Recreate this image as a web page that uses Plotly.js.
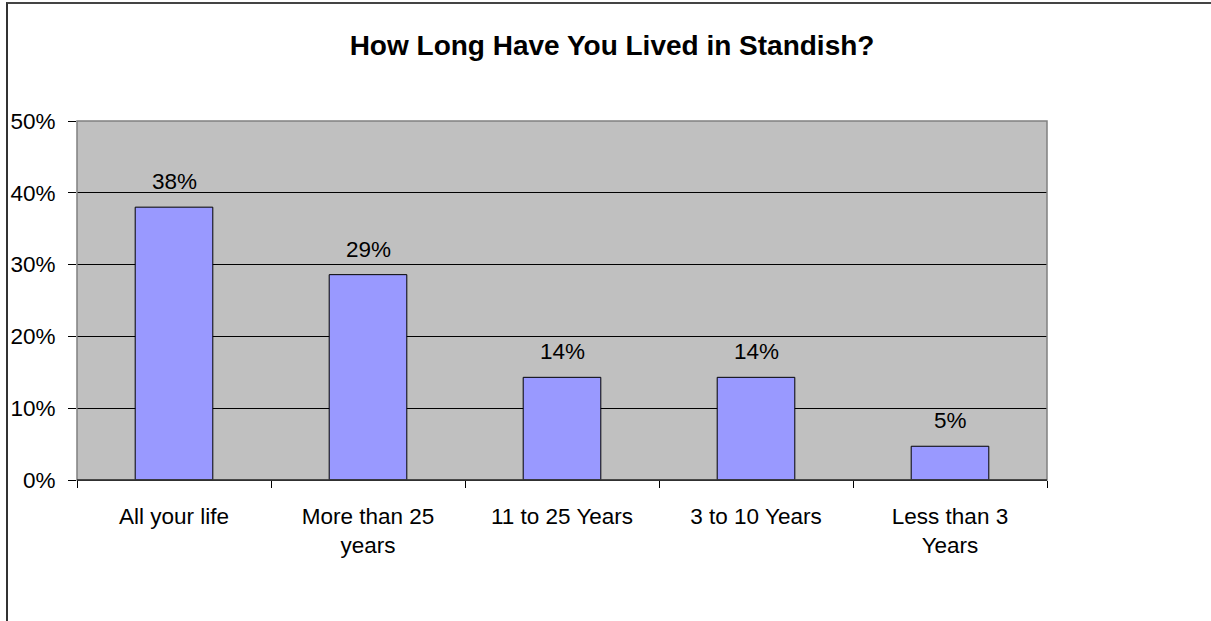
<!DOCTYPE html>
<html>
<head>
<meta charset="utf-8">
<script src="https://cdn.plot.ly/plotly-3.0.1.min.js"></script>
<style>
  html, body { margin: 0; padding: 0; background: #ffffff; }
  #wrap { position: relative; width: 1211px; height: 621px; overflow: hidden; }
  #chart { position: absolute; left: 0; top: 0; width: 1211px; height: 621px; }
  #frame { position: absolute; left: 6px; top: 2px; width: 1300px; height: 700px;
           border-left: 2px solid #333333; border-top: 2px solid #444444; pointer-events: none; }
</style>
</head>
<body>
<div id="wrap">
  <div id="chart"></div>
  <div id="frame"></div>
</div>
<script>
const categories = ["All your life", "More than 25<br>years", "11 to 25 Years", "3 to 10 Years", "Less than 3<br>Years"];
const values = [0.380, 0.286, 0.143, 0.143, 0.047];
const valueLabels = ["38%", "29%", "14%", "14%", "5%"];
const yTickVals = [0, 0.1, 0.2, 0.3, 0.4, 0.5];
const yTickText = ["0%", "10%", "20%", "30%", "40%", "50%"];

const FONT = "Liberation Sans, Arial, sans-serif";

const trace = {
  type: "bar",
  x: categories,
  y: values,
  marker: { color: "#9999FF", line: { color: "#000000", width: 1 } },
  hoverinfo: "skip"
};

const annotations = categories.map((c, i) => ({
  x: c, y: values[i], xref: "x", yref: "y",
  text: valueLabels[i], showarrow: false,
  yanchor: "bottom", yshift: 11,
  font: { family: FONT, size: 22.5, color: "#000000" }
}));

const layout = {
  width: 1211, height: 621,
  margin: { l: 77, r: 164, t: 121, b: 141, pad: 0 },
  paper_bgcolor: "#ffffff",
  plot_bgcolor: "#C0C0C0",
  bargap: 0.6,
  showlegend: false,
  title: {
    text: "<b>How Long Have You Lived in Standish?</b>",
    font: { family: FONT, size: 28, color: "#000000" },
    x: 0.5054, xref: "container", xanchor: "center",
    y: 1 - 45 / 621, yref: "container", yanchor: "middle"
  },
  xaxis: {
    type: "category",
    showgrid: false,
    showline: true, linecolor: "#000000", linewidth: 1,
    ticks: "outside", tickson: "boundaries", ticklen: 7, tickcolor: "#000000", tickwidth: 1,
    tickfont: { family: FONT, size: 22.5, color: "#000000" },
    ticklabelstandoff: 16,
    fixedrange: true
  },
  yaxis: {
    range: [0, 0.5],
    tickvals: yTickVals, ticktext: yTickText,
    showgrid: true, gridcolor: "#000000", gridwidth: 1,
    zeroline: false,
    showline: false,
    ticks: "outside", ticklen: 8, tickcolor: "#000000", tickwidth: 1,
    tickfont: { family: FONT, size: 22.5, color: "#000000" },
    ticklabelstandoff: 8,
    fixedrange: true
  },
  shapes: [
    { type: "rect", xref: "paper", yref: "paper", x0: 0, x1: 1, y0: 0, y1: 1,
      line: { color: "#808080", width: 1.5 }, fillcolor: "rgba(0,0,0,0)", layer: "above" },
    { type: "line", xref: "paper", yref: "paper", x0: 0, x1: 1, y0: 0, y1: 0,
      line: { color: "#000000", width: 1 }, layer: "above" }
  ],
  annotations: annotations
};

Plotly.newPlot("chart", [trace], layout, { displayModeBar: false, staticPlot: true });
</script>
</body>
</html>
